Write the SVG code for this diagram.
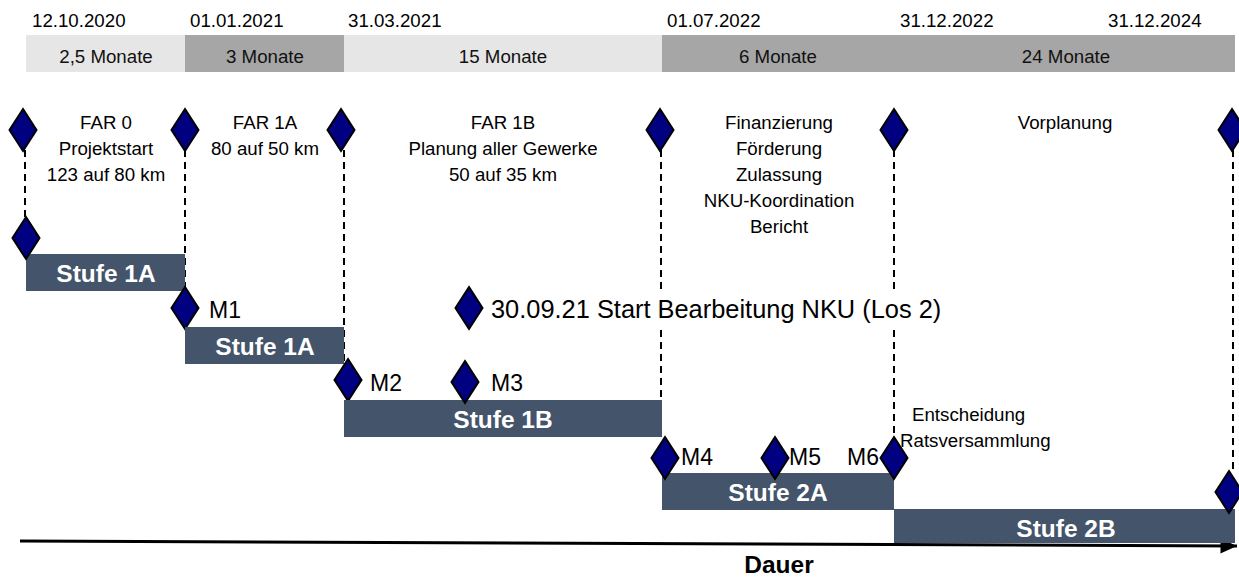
<svg xmlns="http://www.w3.org/2000/svg" width="1239" height="577" viewBox="0 0 1239 577">
<defs>
<style>
text{font-family:"Liberation Sans",Arial,sans-serif;fill:#000}
.d{font-size:18.7px}
.m{font-size:18.7px;text-anchor:middle;fill:#111}
.t{font-size:18.7px;text-anchor:middle}
.bar{fill:#44546a}
.bl{font-size:24.5px;font-weight:bold;fill:#fff;text-anchor:middle}
.ml{font-size:23px}
.dia{fill:#000080;stroke:#000;stroke-width:2}
.dash{stroke:#000;stroke-width:2;stroke-dasharray:7 5;fill:none}
</style>
<path id="dm" d="M0,-21 L13.5,0 L0,21 L-13.5,0 Z"/>
<marker id="ah" markerWidth="6" markerHeight="6" refX="5.5" refY="2.5" orient="auto" markerUnits="strokeWidth"><path d="M0,0 L5.5,2.5 L0,5 Z" fill="#000"/></marker>
</defs>
<rect width="1239" height="577" fill="#fff"/>
<g id="header">
<rect x="26" y="35" width="159" height="37" fill="#e6e6e6"/>
<rect x="185" y="35" width="159" height="37" fill="#a6a6a6"/>
<rect x="344" y="35" width="318" height="37" fill="#e6e6e6"/>
<rect x="662" y="35" width="573" height="37" fill="#a6a6a6"/>
<text class="d" x="32" y="27">12.10.2020</text>
<text class="d" x="190" y="27">01.01.2021</text>
<text class="d" x="348" y="27">31.03.2021</text>
<text class="d" x="667" y="27">01.07.2022</text>
<text class="d" x="900" y="27">31.12.2022</text>
<text class="d" x="1108" y="27">31.12.2024</text>
<text class="m" x="106" y="63">2,5 Monate</text>
<text class="m" x="265" y="63">3 Monate</text>
<text class="m" x="503" y="63">15 Monate</text>
<text class="m" x="778" y="63">6 Monate</text>
<text class="m" x="1066" y="63">24 Monate</text>
</g>
<g id="connectors">
<line class="dash" x1="25" y1="150" x2="25" y2="218"/>
<line class="dash" x1="185" y1="150" x2="185" y2="290"/>
<line class="dash" x1="344" y1="150" x2="344" y2="362"/>
<line class="dash" x1="661" y1="150" x2="661" y2="438"/>
<line class="dash" x1="894" y1="150" x2="894" y2="440"/>
<line class="dash" x1="1233" y1="150" x2="1233" y2="472"/>
<line x1="20" y1="541" x2="1237" y2="546" stroke="#000" stroke-width="3" marker-end="url(#ah)"/>
</g>
<g id="phase-texts">
<text class="t" x="106" y="129">FAR 0</text>
<text class="t" x="106" y="155">Projektstart</text>
<text class="t" x="106" y="181">123 auf 80 km</text>
<text class="t" x="265" y="129">FAR 1A</text>
<text class="t" x="265" y="155">80 auf 50 km</text>
<text class="t" x="503" y="129">FAR 1B</text>
<text class="t" x="503" y="155">Planung aller Gewerke</text>
<text class="t" x="503" y="181">50 auf 35 km</text>
<text class="t" x="779" y="129">Finanzierung</text>
<text class="t" x="779" y="155">Förderung</text>
<text class="t" x="779" y="181">Zulassung</text>
<text class="t" x="779" y="207">NKU-Koordination</text>
<text class="t" x="779" y="233">Bericht</text>
<text class="t" x="1065" y="129">Vorplanung</text>
</g>
<g id="top-diamonds">
<use href="#dm" class="dia" x="23" y="130"/>
<use href="#dm" class="dia" x="185" y="130"/>
<use href="#dm" class="dia" x="341" y="130"/>
<use href="#dm" class="dia" x="660" y="130"/>
<use href="#dm" class="dia" x="894" y="130"/>
<use href="#dm" class="dia" x="1232" y="130"/>
</g>
<g id="stufe1a-1">
<rect class="bar" x="26" y="254" width="159" height="37"/>
<text class="bl" x="106" y="282">Stufe 1A</text>
<use href="#dm" class="dia" x="26" y="238"/>
</g>
<g id="m1">
<use href="#dm" class="dia" x="185" y="308"/>
<text class="ml" x="209" y="318">M1</text>
</g>
<g id="stufe1a-2">
<rect class="bar" x="185" y="327" width="159" height="37"/>
<text class="bl" x="265" y="355">Stufe 1A</text>
</g>
<g id="nku">
<rect x="488" y="292" width="458" height="33" fill="#fff"/>
<use href="#dm" class="dia" x="469" y="308"/>
<text x="491" y="318" style="font-size:25.4px">30.09.21 Start Bearbeitung NKU (Los 2)</text>
</g>
<g id="m2">
<use href="#dm" class="dia" x="348" y="380"/>
<text class="ml" x="370" y="391">M2</text>
</g>
<g id="stufe1b">
<rect class="bar" x="344" y="400" width="318" height="37"/>
<text class="bl" x="503" y="428">Stufe 1B</text>
</g>
<g id="m3">
<use href="#dm" class="dia" x="465" y="382"/>
<text class="ml" x="491" y="391">M3</text>
</g>
<g id="stufe2a">
<rect class="bar" x="662" y="473" width="232" height="37"/>
<text class="bl" x="778" y="501">Stufe 2A</text>
</g>
<g id="m4">
<use href="#dm" class="dia" x="665" y="458"/>
<text class="ml" x="681" y="465">M4</text>
</g>
<g id="m5">
<use href="#dm" class="dia" x="775" y="458"/>
<text class="ml" x="789" y="465">M5</text>
</g>
<g id="m6">
<text class="ml" x="847" y="465">M6</text>
<use href="#dm" class="dia" x="894" y="458"/>
</g>
<g id="entscheidung">
<text class="t" x="912" y="421" style="text-anchor:start">Entscheidung</text>
<text class="t" x="900" y="447" style="text-anchor:start">Ratsversammlung</text>
</g>
<g id="stufe2b">
<rect class="bar" x="894" y="509" width="341" height="34"/>
<text class="bl" x="1066" y="537">Stufe 2B</text>
<use href="#dm" class="dia" x="1229" y="492"/>
</g>
<g id="dauer">
<text x="779" y="573" style="font-size:24.5px;font-weight:bold;text-anchor:middle">Dauer</text>
</g>
</svg>
